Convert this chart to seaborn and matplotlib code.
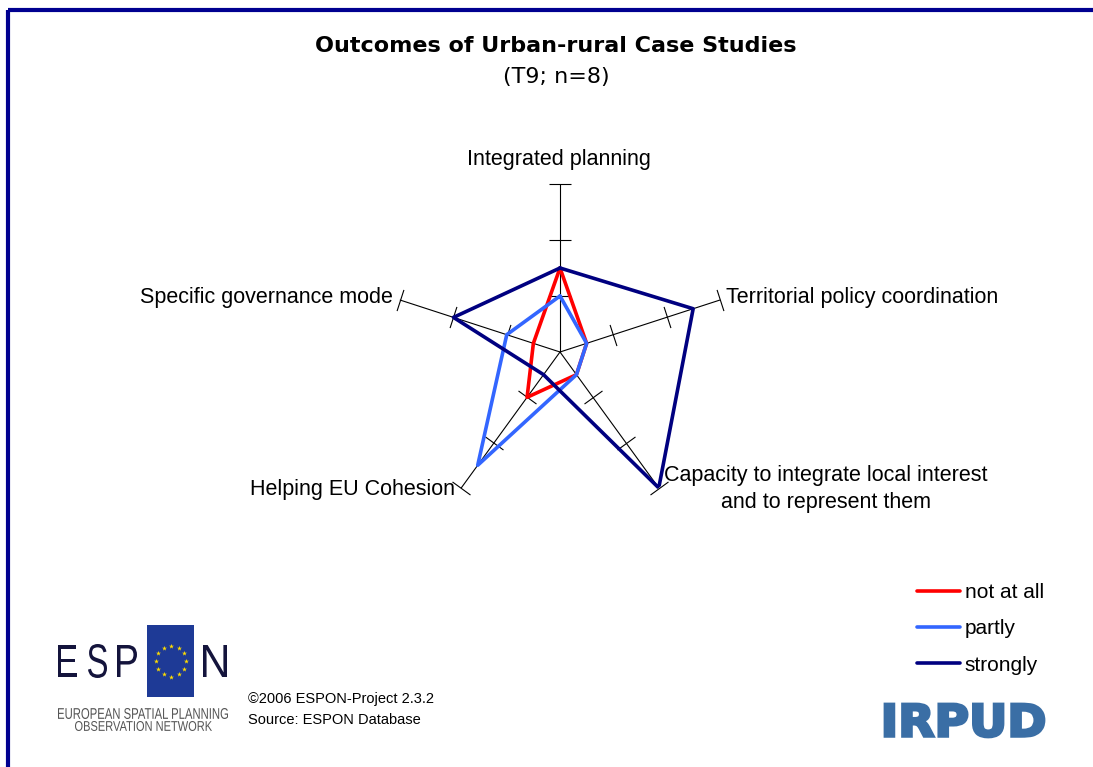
import numpy as np
import pandas as pd
import seaborn as sns
import matplotlib.pyplot as plt
from matplotlib.textpath import TextPath
from matplotlib.patches import PathPatch, Rectangle
from matplotlib.font_manager import FontProperties
from matplotlib.transforms import Affine2D

# Data
criteria = ["Integrated planning", "Territorial policy coordination",
            "Capacity to integrate local interest\nand to represent them",
            "Helping EU Cohesion", "Specific governance mode"]
not_at_all = [1.5, 0.5, 0.5, 1.0, 0.5]
partly = [1.0, 0.5, 0.5, 2.5, 1.0]
strongly = [1.5, 2.5, 3.0, 0.5, 2.0]
levels = ["not at all", "partly", "strongly"]
ticks = [1, 2, 3]
colors = {"not at all": "#FF0000", "partly": "#3366FF", "strongly": "#000080"}

W, H = 1093, 767
n = len(criteria)
angles = np.linspace(0, 2 * np.pi, n, endpoint=False)

# long table, polygon closed by repeating the first point at 2*pi
rows = []
for lvl, vals in zip(levels, [not_at_all, partly, strongly]):
    for a, v in zip(list(angles) + [2 * np.pi], vals + vals[:1]):
        rows.append({"angle": a, "value": v, "outcome": lvl})
df = pd.DataFrame(rows)

sns.set_style("white")
plt.rcParams['font.family'] = ['Liberation Sans', 'DejaVu Sans']
plt.rcParams['text.color'] = 'black'

fig = plt.figure(figsize=(W / 100, H / 100), dpi=100)
fig.patch.set_facecolor("white")


def px(x, y):
    return x / W, 1 - y / H


# background axes in pixel coords (y downwards) for frame and logos
bg = fig.add_axes([0, 0, 1, 1])
bg.set_xlim(0, W)
bg.set_ylim(H, 0)
bg.axis("off")
bg.plot([8, W], [9.5, 9.5], color="#000090", lw=3, solid_capstyle="butt")
bg.plot([8, 8], [9.5, H], color="#000090", lw=3, solid_capstyle="butt")


def box_text(ax, s, x0, x1, ytop, ybot, color, family="Liberation Sans", weight="normal", lw=0):
    tp = TextPath((0, 0), s, size=1, prop=FontProperties(family=family, weight=weight))
    ext = tp.get_extents()
    tr = (Affine2D().translate(-ext.x0, -ext.y0)
          .scale((x1 - x0) / ext.width, -(ybot - ytop) / ext.height)
          .translate(x0, ybot))
    ax.add_patch(PathPatch(tr.transform_path(tp), color=color, lw=lw))


# ESPON logo
box_text(bg, "E", 58, 77, 645, 677, "#14143c")
box_text(bg, "S", 88, 107, 644, 678, "#14143c")
box_text(bg, "P", 117, 137, 645, 677, "#14143c")
box_text(bg, "N", 203, 227, 645, 677, "#14143c")
bg.add_patch(Rectangle((147, 625), 47, 72, color="#1e3a96", lw=0))
star_a = np.linspace(0, 2 * np.pi, 12, endpoint=False)
bg.scatter(171 + 15 * np.cos(star_a), 661 + 15.5 * np.sin(star_a), marker="*", s=14,
           color="#ffdd00", linewidths=0, zorder=3)
box_text(bg, "EUROPEAN SPATIAL PLANNING", 58, 228, 708, 719, "#555555")
box_text(bg, "OBSERVATION NETWORK", 75, 212, 721, 731, "#555555")

# IRPUD logo
box_text(bg, "IRPUD", 885, 1044, 704, 737, "#3a6ea5", family="DejaVu Sans", weight="bold", lw=2)

fig.text(*px(248, 699), "\u00a92006 ESPON-Project 2.3.2", fontsize=10.5, va="center", ha="left")
fig.text(*px(248, 720), "Source: ESPON Database", fontsize=10.5, va="center", ha="left")

# Titles
fig.text(*px(556, 46), "Outcomes of Urban-rural Case Studies", fontsize=16, fontweight="bold",
         family="DejaVu Sans", ha="center", va="center")
fig.text(*px(556, 77), "(T9; n=8)", fontsize=16, family="DejaVu Sans", ha="center", va="center")

# Radar axes
cx, cy, R = 560, 352, 168
ax = fig.add_axes([(cx - R) / W, 1 - (cy + R) / H, 2 * R / W, 2 * R / H], projection="polar")
ax.set_theta_offset(np.pi / 2)
ax.set_theta_direction(-1)
ax.set_ylim(0, 3)
ax.grid(False)
ax.spines["polar"].set_visible(False)
ax.set_xticks([])
ax.set_yticks([])
ax.patch.set_alpha(0)

for a in angles:
    ax.plot([a, a], [0, 3], color="black", lw=0.8, zorder=1, clip_on=False)
    rot = np.degrees(np.pi / 2 - a)
    ax.plot([a] * len(ticks), ticks, ls="none", marker=(2, 0, rot), markersize=16,
            markeredgewidth=0.8, markeredgecolor="black", zorder=1, clip_on=False)

sns.lineplot(data=df, x="angle", y="value", hue="outcome", hue_order=levels, palette=colors,
             sort=False, estimator=None, lw=2.6, ax=ax)
for line, z in zip(ax.lines[-3:], [3, 2, 4]):
    line.set_zorder(z)
    line.set_clip_on(False)
    line.set_solid_joinstyle("miter")

ax.set_xlabel("")
ax.set_ylabel("")
sns.move_legend(ax, "upper left", bbox_to_anchor=px(917, 583), bbox_transform=fig.transFigure,
                frameon=False, title=None, fontsize=15, handlelength=2.05, handletextpad=0.25,
                labelspacing=0.83, borderpad=0, borderaxespad=0)

# axis labels
lab = dict(fontsize=15.5)
fig.text(*px(559, 159), criteria[0], ha="center", va="center", **lab)
fig.text(*px(726, 297), criteria[1], ha="left", va="center", **lab)
fig.text(*px(826, 489), criteria[2], ha="center", va="center", linespacing=1.35, **lab)
fig.text(*px(455, 489), criteria[3], ha="right", va="center", **lab)
fig.text(*px(393, 297), criteria[4], ha="right", va="center", **lab)

fig.savefig("out.png", dpi=100)
